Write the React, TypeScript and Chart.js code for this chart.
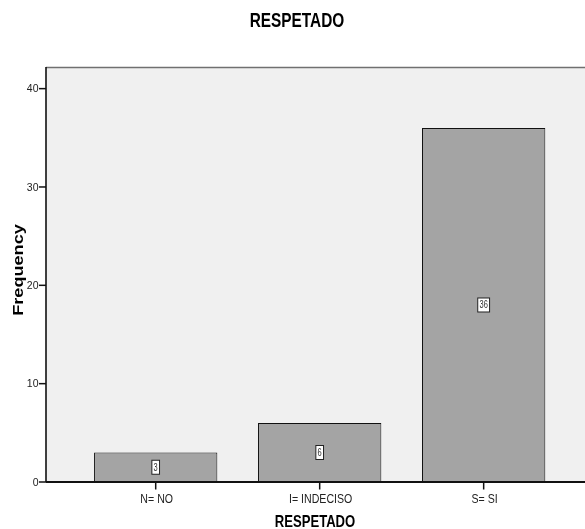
import React, { useEffect, useRef } from "react";
import { Chart, registerables } from "chart.js";

Chart.register(...registerables);

const categories = ["N= NO", "I= INDECISO", "S= SI"];
const positions = [1, 2, 3];
const frequencies = [3, 6, 36];
const yTicks = [0, 10, 20, 30, 40];
const chartTitle = "RESPETADO";
const xTitle = "RESPETADO";
const yTitle = "Frequency";

const FONT = "'Liberation Sans', Arial, Helvetica, sans-serif";

function drawText(
  ctx: CanvasRenderingContext2D,
  text: string,
  x: number,
  y: number,
  font: string,
  ky: number,
  align: CanvasTextAlign,
  baseline: CanvasTextBaseline,
  color: string,
  rotate = false
) {
  ctx.save();
  ctx.translate(x, y);
  ctx.scale(1, ky);
  if (rotate) ctx.rotate(-Math.PI / 2);
  ctx.font = font;
  ctx.textAlign = align;
  ctx.textBaseline = baseline;
  ctx.fillStyle = color;
  ctx.fillText(text, 0, 0);
  ctx.restore();
}

const spssPlugin = {
  id: "spssDecor",
  beforeDatasetsDraw(chart: any) {
    const { ctx, chartArea } = chart;
    ctx.save();
    ctx.fillStyle = "#f0f0f0";
    ctx.fillRect(chartArea.left, chartArea.top, chartArea.right - chartArea.left, chartArea.bottom - chartArea.top);
    ctx.restore();
  },
  afterDatasetsDraw(chart: any) {
    const { ctx, chartArea } = chart;
    const xs = chart.scales.x;
    const ys = chart.scales.y;
    ctx.save();
    // top frame
    ctx.strokeStyle = "#707070";
    ctx.lineWidth = 1.5;
    ctx.beginPath();
    ctx.moveTo(chartArea.left, chartArea.top + 0.5);
    ctx.lineTo(chartArea.right, chartArea.top + 0.5);
    ctx.stroke();
    // left axis
    ctx.strokeStyle = "#111";
    ctx.lineWidth = 1.6;
    ctx.beginPath();
    ctx.moveTo(chartArea.left, chartArea.top);
    ctx.lineTo(chartArea.left, chartArea.bottom);
    ctx.stroke();
    // bottom axis
    ctx.lineWidth = 2;
    ctx.beginPath();
    ctx.moveTo(chartArea.left, chartArea.bottom);
    ctx.lineTo(chartArea.right, chartArea.bottom);
    ctx.stroke();
    // y ticks
    ctx.lineWidth = 1.5;
    yTicks.forEach((v) => {
      const py = ys.getPixelForValue(v);
      ctx.beginPath();
      ctx.moveTo(chartArea.left - 7, py);
      ctx.lineTo(chartArea.left, py);
      ctx.stroke();
      drawText(ctx, String(v), chartArea.left - 7.5, py + 0.5, `10.5px ${FONT}`, 1.05, "right", "middle", "#222");
    });
    // x ticks
    positions.forEach((p, i) => {
      const px = xs.getPixelForValue(p);
      ctx.strokeStyle = "#111";
      ctx.lineWidth = 1.5;
      ctx.beginPath();
      ctx.moveTo(px, chartArea.bottom);
      ctx.lineTo(px, chartArea.bottom + 7.5);
      ctx.stroke();
      drawText(ctx, categories[i], px + 1, chartArea.bottom + 20.5, `10.6px ${FONT}`, 1.15, "center", "alphabetic", "#222");
    });
    // data labels
    const meta = chart.getDatasetMeta(0);
    meta.data.forEach((bar: any, i: number) => {
      const label = String(frequencies[i]);
      const cy = (bar.y + bar.base) / 2;
      ctx.font = `7.5px ${FONT}`;
      const tw = ctx.measureText(label).width;
      const bw = tw + 3.5;
      const bh = 14;
      ctx.fillStyle = "#ffffff";
      ctx.fillRect(bar.x - bw / 2, cy - bh / 2, bw, bh);
      ctx.strokeStyle = "#222";
      ctx.lineWidth = 1;
      ctx.strokeRect(bar.x - bw / 2, cy - bh / 2, bw, bh);
      drawText(ctx, label, bar.x, cy + 3.5, `7.5px ${FONT}`, 1.4, "center", "alphabetic", "#333");
    });
    // titles
    drawText(ctx, chartTitle, 297, 26.5, `bold 15.4px ${FONT}`, 1.3, "center", "alphabetic", "#000");
    drawText(ctx, xTitle, 315, 526.5, `bold 13.1px ${FONT}`, 1.24, "center", "alphabetic", "#000");
    drawText(ctx, yTitle, 22.5, 270, `bold 14.5px ${FONT}`, 1.25, "center", "alphabetic", "#000", true);
    ctx.restore();
  },
};

export default function App() {
  const ref = useRef<HTMLCanvasElement | null>(null);
  useEffect(() => {
    if (!ref.current) return;
    const chart = new Chart(ref.current, {
      type: "bar",
      data: {
        datasets: [
          {
            data: positions.map((p, i) => ({ x: p, y: frequencies[i] })),
            backgroundColor: "#a4a4a4",
            borderColor: "#111",
            borderWidth: 1,
            borderSkipped: "bottom",
            barPercentage: 0.752,
            categoryPercentage: 1,
          },
        ],
      },
      options: {
        animation: false,
        responsive: false,
        maintainAspectRatio: false,
        layout: { padding: { left: 46, top: 67, bottom: 47, right: 0 } },
        plugins: { legend: { display: false }, tooltip: { enabled: false }, title: { display: false } },
        scales: {
          x: {
            type: "linear",
            display: false,
            offset: false,
            min: 0.331,
            max: 3.618,
            afterBuildTicks: (s: any) => {
              s.ticks = positions.map((v) => ({ value: v }));
            },
          },
          y: { type: "linear", display: false, min: 0, max: 42.2 },
        },
      },
      plugins: [spssPlugin],
    });
    return () => chart.destroy();
  }, []);
  return (
    <div style={{ position: "absolute", left: 0, top: 0, width: 585, height: 529, background: "#fff" }}>
      <canvas ref={ref} width={585} height={529} style={{ width: 585, height: 529, display: "block" }} />
    </div>
  );
}
